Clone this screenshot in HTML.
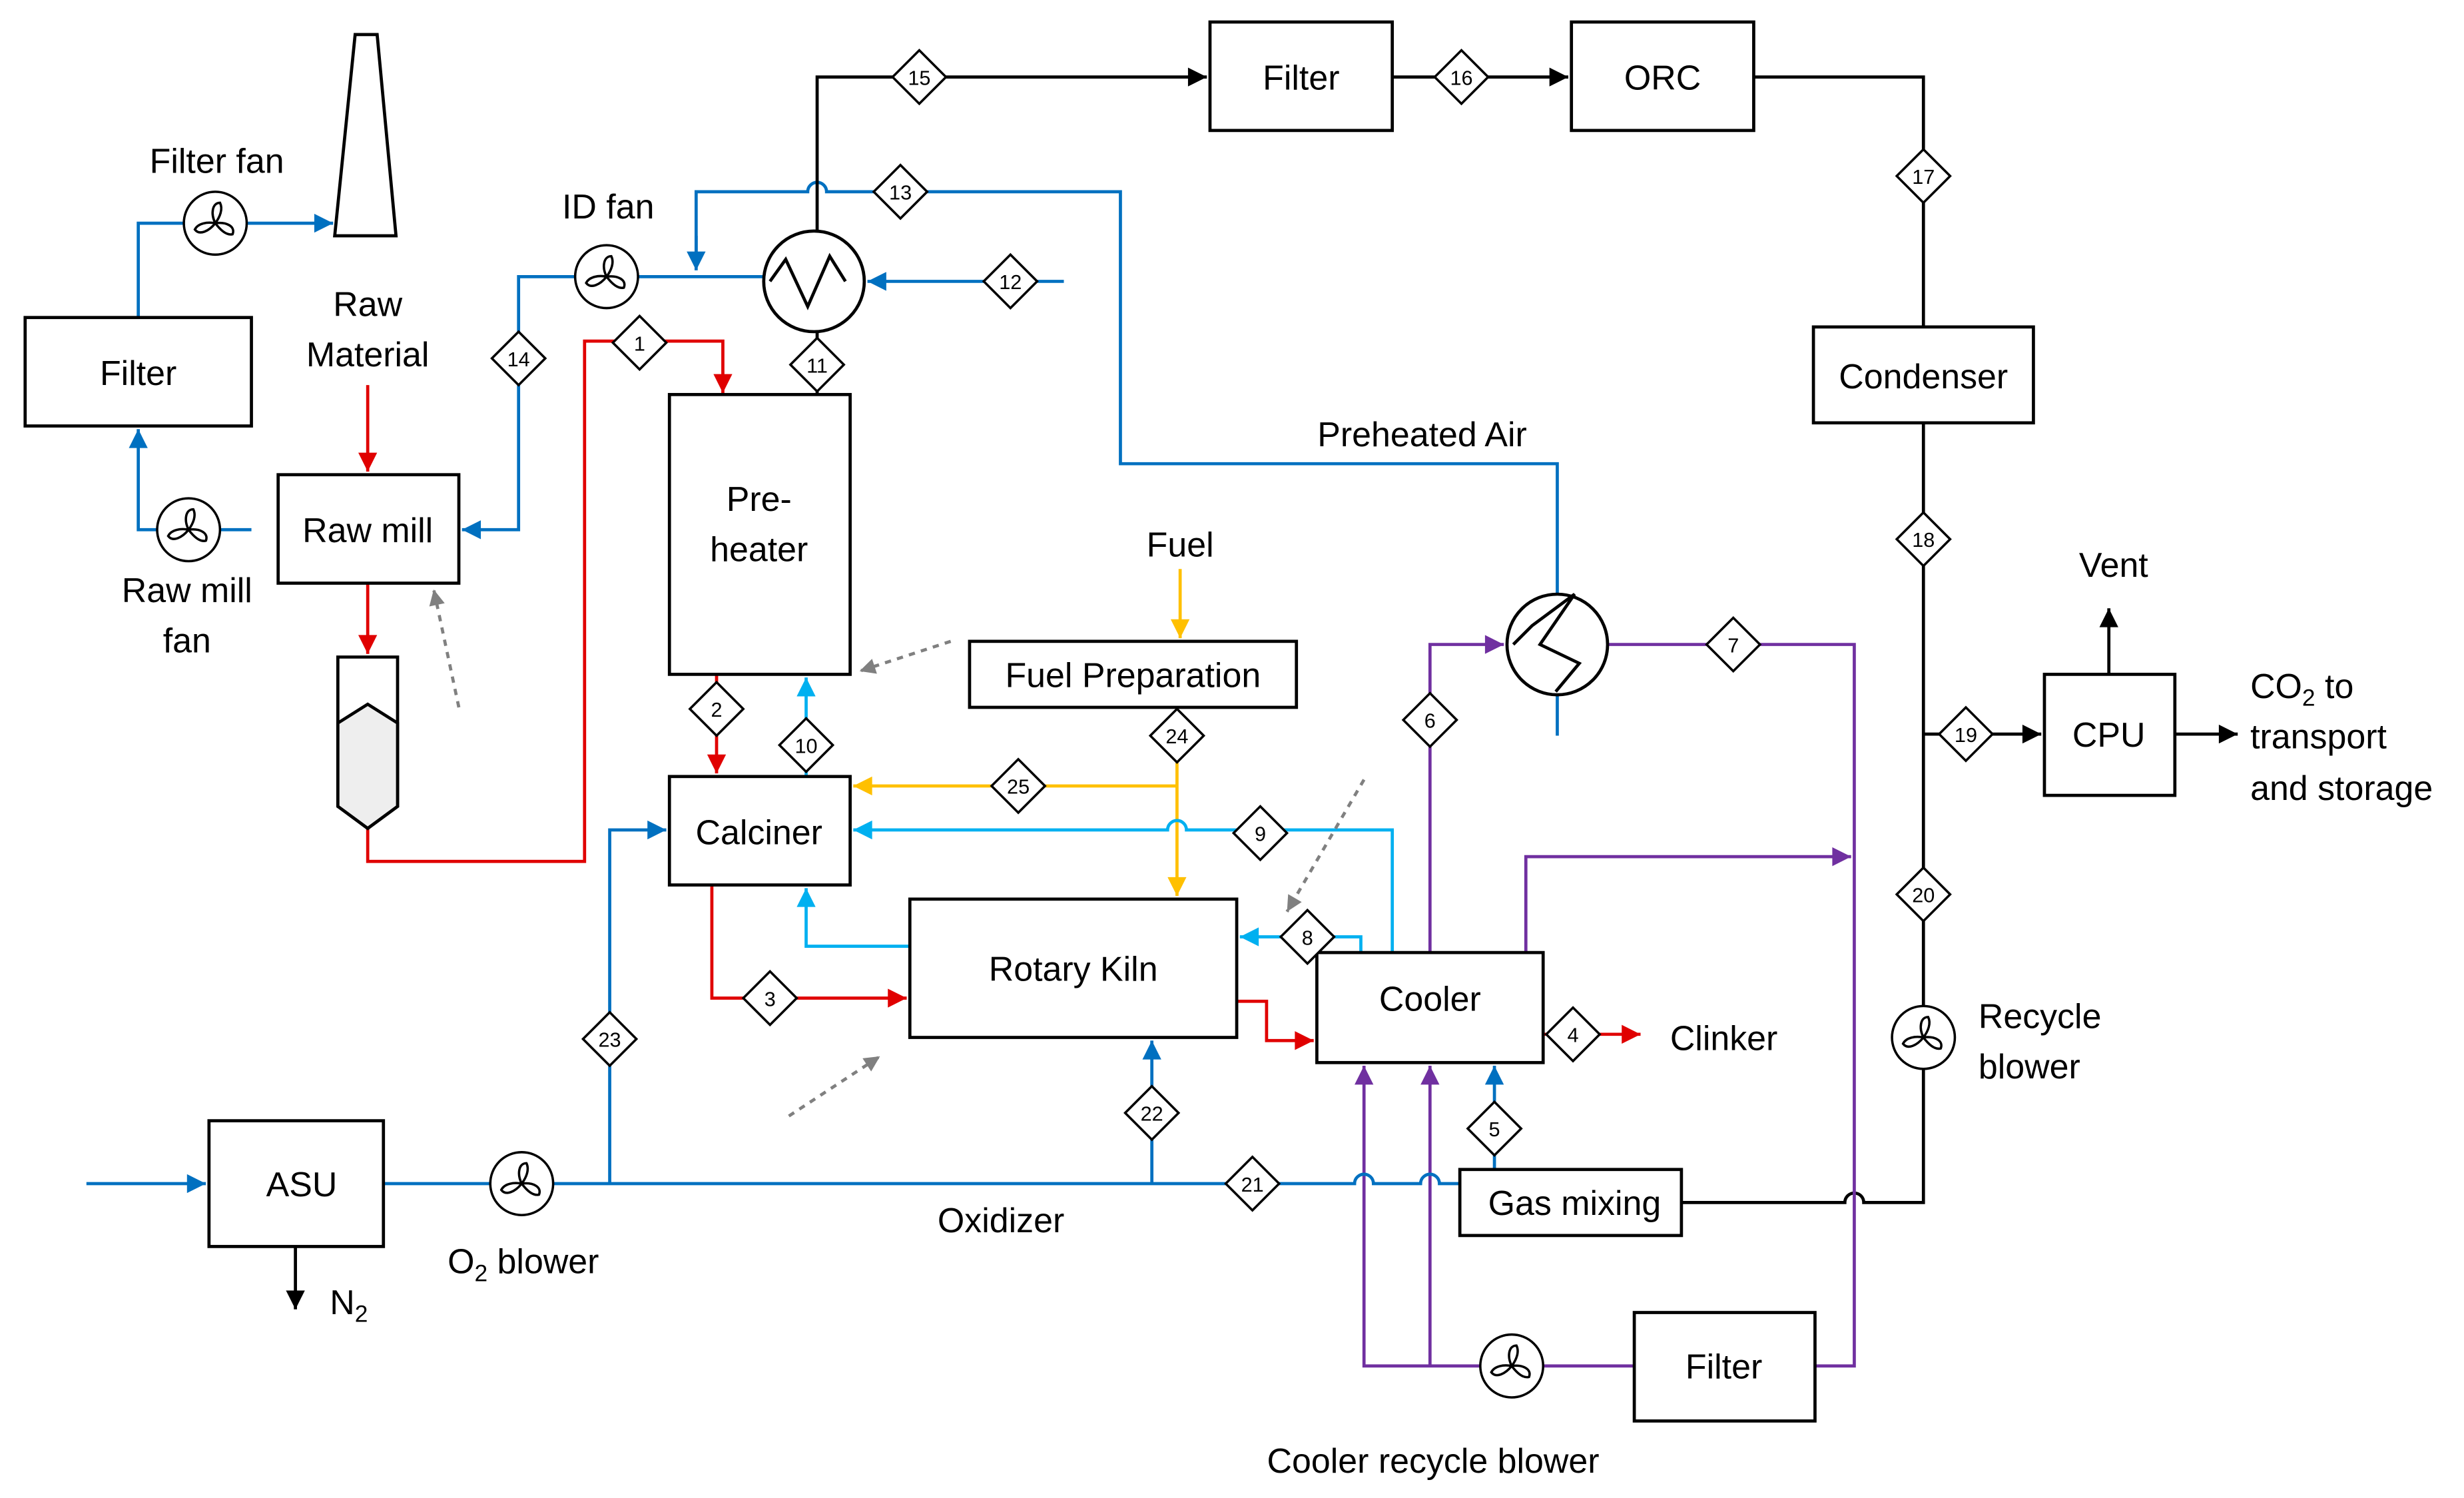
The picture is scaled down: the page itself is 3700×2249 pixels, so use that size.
<!DOCTYPE html>
<html><head><meta charset="utf-8"><style>
html,body{margin:0;padding:0;background:#fff;}
svg{display:block;}
text{font-family:"Liberation Sans",sans-serif;}
</style></head><body>
<svg width="3700" height="2249" viewBox="0 0 1568 953" preserveAspectRatio="none" xmlns="http://www.w3.org/2000/svg">
<defs>
<marker id="ar" viewBox="0 0 10 10" markerWidth="14" markerHeight="12" refX="10" refY="5" orient="auto" markerUnits="userSpaceOnUse"><path d="M0,0 L10,5 L0,10z" fill="#e00000"/></marker>
<marker id="ab" viewBox="0 0 10 10" markerWidth="14" markerHeight="12" refX="10" refY="5" orient="auto" markerUnits="userSpaceOnUse"><path d="M0,0 L10,5 L0,10z" fill="#0070c0"/></marker>
<marker id="al" viewBox="0 0 10 10" markerWidth="14" markerHeight="12" refX="10" refY="5" orient="auto" markerUnits="userSpaceOnUse"><path d="M0,0 L10,5 L0,10z" fill="#00b0f0"/></marker>
<marker id="ao" viewBox="0 0 10 10" markerWidth="14" markerHeight="12" refX="10" refY="5" orient="auto" markerUnits="userSpaceOnUse"><path d="M0,0 L10,5 L0,10z" fill="#ffc000"/></marker>
<marker id="ap" viewBox="0 0 10 10" markerWidth="14" markerHeight="12" refX="10" refY="5" orient="auto" markerUnits="userSpaceOnUse"><path d="M0,0 L10,5 L0,10z" fill="#7030a0"/></marker>
<marker id="abk" viewBox="0 0 10 10" markerWidth="14" markerHeight="12" refX="10" refY="5" orient="auto" markerUnits="userSpaceOnUse"><path d="M0,0 L10,5 L0,10z" fill="#000"/></marker>
<marker id="ag" viewBox="0 0 10 10" markerWidth="12" markerHeight="10" refX="10" refY="5" orient="auto" markerUnits="userSpaceOnUse"><path d="M0,0 L10,5 L0,10z" fill="#808080"/></marker>
<g id="fan"><circle r="20" fill="#fff" stroke="#000" stroke-width="1.5"/><path d="M0,0 C-3,-6 -2,-13 3,-13 C5,-9 3,-4 0,0 M0,0 C7,-1 13,2 11,7 C7,8 3,4 0,0 M0,0 C-4,5 -10,8 -13,4 C-11,0 -5,-1 0,0" fill="none" stroke="#000" stroke-width="1.5"/></g>
</defs>

<g fill="none" stroke-width="2">
<polyline points="160,337 120,337" stroke="#0070c0"/>
<polyline points="100,337 88,337 88,273" stroke="#0070c0" marker-end="url(#ab)"/>
<polyline points="88,202 88,142 117,142" stroke="#0070c0"/>
<polyline points="157,142 212,142" stroke="#0070c0" marker-end="url(#ab)"/>
<polyline points="487,176 406,176" stroke="#0070c0"/>
<polyline points="366,176 330,176 330,337 294,337" stroke="#0070c0" marker-end="url(#ab)"/>
<polyline points="677,179 552,179" stroke="#0070c0" marker-end="url(#ab)"/>
<path d="M443,170 L443,122 L514,122 A6,6 0 0 1 526,122 L713,122 L713,295 L991,295 L991,378" stroke="#0070c0"/>
<line x1="443" y1="150" x2="443" y2="172" stroke="#0070c0" marker-end="url(#ab)"/>
<line x1="991" y1="442" x2="991" y2="468" stroke="#0070c0"/>
<line x1="234" y1="245" x2="234" y2="300" stroke="#e00000" marker-end="url(#ar)"/>
<line x1="234" y1="371" x2="234" y2="416" stroke="#e00000" marker-end="url(#ar)"/>
<polyline points="234,527 234,548 372,548 372,217 460,217 460,250" stroke="#e00000" marker-end="url(#ar)"/>
<line x1="456" y1="429" x2="456" y2="492" stroke="#e00000" marker-end="url(#ar)"/>
<polyline points="453,563 453,635 577,635" stroke="#e00000" marker-end="url(#ar)"/>
<polyline points="787,637 806,637 806,662 836,662" stroke="#e00000" marker-end="url(#ar)"/>
<line x1="982" y1="658" x2="1044" y2="658" stroke="#e00000" marker-end="url(#ar)"/>
<polyline points="520,147 520,49 768,49" stroke="#000" marker-end="url(#abk)"/>
<line x1="886" y1="49" x2="998" y2="49" stroke="#000" marker-end="url(#abk)"/>
<polyline points="1116,49 1224,49 1224,208" stroke="#000"/>
<line x1="520" y1="211" x2="520" y2="251" stroke="#000"/>
<path d="M1224,269 L1224,765 L1186,765 A6,6 0 0 0 1174,765 L1070,765" stroke="#000"/>
<line x1="1224" y1="467" x2="1299" y2="467" stroke="#000" marker-end="url(#abk)"/>
<line x1="1342" y1="429" x2="1342" y2="387" stroke="#000" marker-end="url(#abk)"/>
<line x1="1384" y1="467" x2="1424" y2="467" stroke="#000" marker-end="url(#abk)"/>
<line x1="188" y1="793" x2="188" y2="833" stroke="#000" marker-end="url(#abk)"/>
<line x1="751" y1="362" x2="751" y2="406" stroke="#ffc000" marker-end="url(#ao)"/>
<line x1="749" y1="450" x2="749" y2="570" stroke="#ffc000" marker-end="url(#ao)"/>
<line x1="749" y1="500" x2="543" y2="500" stroke="#ffc000" marker-end="url(#ao)"/>
<line x1="513" y1="494" x2="513" y2="431" stroke="#00b0f0" marker-end="url(#al)"/>
<path d="M886,606 L886,528 L755,528 A6,6 0 0 0 743,528 L543,528" stroke="#00b0f0" marker-end="url(#al)"/>
<polyline points="866,606 866,596 789,596" stroke="#00b0f0" marker-end="url(#al)"/>
<polyline points="579,602 513,602 513,565" stroke="#00b0f0" marker-end="url(#al)"/>
<polyline points="910,606 910,410 957,410" stroke="#7030a0" marker-end="url(#ap)"/>
<polyline points="1023,410 1180,410 1180,869 1155,869" stroke="#7030a0"/>
<polyline points="971,606 971,545 1178,545" stroke="#7030a0" marker-end="url(#ap)"/>
<line x1="1040" y1="869" x2="982" y2="869" stroke="#7030a0"/>
<polyline points="942,869 868,869 868,678" stroke="#7030a0" marker-end="url(#ap)"/>
<line x1="910" y1="869" x2="910" y2="678" stroke="#7030a0" marker-end="url(#ap)"/>
<line x1="55" y1="753" x2="131" y2="753" stroke="#0070c0" marker-end="url(#ab)"/>
<line x1="244" y1="753" x2="312" y2="753" stroke="#0070c0"/>
<path d="M352,753 L862,753 A6,6 0 0 1 874,753 L904,753 A6,6 0 0 1 916,753 L929,753" stroke="#0070c0"/>
<polyline points="388,753 388,528 424,528" stroke="#0070c0" marker-end="url(#ab)"/>
<line x1="733" y1="753" x2="733" y2="662" stroke="#0070c0" marker-end="url(#ab)"/>
<line x1="951" y1="744" x2="951" y2="678" stroke="#0070c0" marker-end="url(#ab)"/>
<g stroke="#808080" stroke-dasharray="4,4" stroke-width="2">
<line x1="605" y1="408" x2="547" y2="427" marker-end="url(#ag)"/>
<line x1="868" y1="496" x2="819" y2="580" marker-end="url(#ag)"/>
<line x1="502" y1="710" x2="560" y2="672" marker-end="url(#ag)"/>
<line x1="292" y1="450" x2="276" y2="375" marker-end="url(#ag)"/>
</g>
</g>

<g fill="#fff" stroke="#000" stroke-width="2">
<rect x="16" y="202" width="144" height="69"/>
<rect x="177" y="302" width="115" height="69"/>
<rect x="426" y="251" width="115" height="178"/>
<rect x="770" y="14" width="116" height="69"/>
<rect x="1000" y="14" width="116" height="69"/>
<rect x="1154" y="208" width="140" height="61"/>
<rect x="1301" y="429" width="83" height="77"/>
<rect x="617" y="408" width="208" height="42"/>
<rect x="426" y="494" width="115" height="69"/>
<rect x="579" y="572" width="208" height="88"/>
<rect x="838" y="606" width="144" height="70"/>
<rect x="929" y="744" width="141" height="42"/>
<rect x="133" y="713" width="111" height="80"/>
<rect x="1040" y="835" width="115" height="69"/>
<polygon points="226,22 240,22 252,150 213,150"/>
<path d="M215,418 L253,418 L253,513 L234,527 L215,513 Z" fill="#fff"/>
<path d="M215,460 L234,448 L253,460 L253,513 L234,527 L215,513 Z" fill="#eee"/>
</g>

<g fill="#fff" stroke="#000" stroke-width="2">
<circle cx="518" cy="179" r="32"/>
<polyline points="490,179 500,165 514,195 528,163 538,179" fill="none"/>
<circle cx="991" cy="410" r="32"/>
<polyline points="963,410 975,398 1002,378 980,410 1005,422 990,440" fill="none"/>
</g>

<use href="#fan" x="137" y="142"/>
<use href="#fan" x="120" y="337"/>
<use href="#fan" x="386" y="176"/>
<use href="#fan" x="332" y="753"/>
<use href="#fan" x="962" y="869"/>
<use href="#fan" x="1224" y="660"/>

<g fill="#fff" stroke="#000" stroke-width="1.5">
<polygon points="407,201 424,218 407,235 390,218"/>
<polygon points="456,434 473,451 456,468 439,451"/>
<polygon points="490,618 507,635 490,652 473,635"/>
<polygon points="1001,641 1018,658 1001,675 984,658"/>
<polygon points="951,701 968,718 951,735 934,718"/>
<polygon points="910,441 927,458 910,475 893,458"/>
<polygon points="1103,393 1120,410 1103,427 1086,410"/>
<polygon points="832,579 849,596 832,613 815,596"/>
<polygon points="802,513 819,530 802,547 785,530"/>
<polygon points="513,457 530,474 513,491 496,474"/>
<polygon points="520,215 537,232 520,249 503,232"/>
<polygon points="643,162 660,179 643,196 626,179"/>
<polygon points="573,105 590,122 573,139 556,122"/>
<polygon points="330,211 347,228 330,245 313,228"/>
<polygon points="585,32 602,49 585,66 568,49"/>
<polygon points="930,32 947,49 930,66 913,49"/>
<polygon points="1224,95 1241,112 1224,129 1207,112"/>
<polygon points="1224,326 1241,343 1224,360 1207,343"/>
<polygon points="1251,450 1268,467 1251,484 1234,467"/>
<polygon points="1224,552 1241,569 1224,586 1207,569"/>
<polygon points="797,736 814,753 797,770 780,753"/>
<polygon points="733,691 750,708 733,725 716,708"/>
<polygon points="388,644 405,661 388,678 371,661"/>
<polygon points="749,451 766,468 749,485 732,468"/>
<polygon points="648,483 665,500 648,517 631,500"/>
</g>
<g font-size="13" text-anchor="middle" fill="#000">
<text x="407" y="223">1</text><text x="456" y="456">2</text><text x="490" y="640">3</text>
<text x="1001" y="663">4</text><text x="951" y="723">5</text><text x="910" y="463">6</text>
<text x="1103" y="415">7</text><text x="832" y="601">8</text><text x="802" y="535">9</text>
<text x="513" y="479">10</text><text x="520" y="237">11</text><text x="643" y="184">12</text>
<text x="573" y="127">13</text><text x="330" y="233">14</text><text x="585" y="54">15</text>
<text x="930" y="54">16</text><text x="1224" y="117">17</text><text x="1224" y="348">18</text>
<text x="1251" y="472">19</text><text x="1224" y="574">20</text><text x="797" y="758">21</text>
<text x="733" y="713">22</text><text x="388" y="666">23</text><text x="749" y="473">24</text>
<text x="648" y="505">25</text>
</g>

<g font-size="22" text-anchor="middle" fill="#000">
<text x="88" y="245">Filter</text>
<text x="234" y="345">Raw mill</text>
<text x="483" y="325">Pre-</text><text x="483" y="357">heater</text>
<text x="828" y="57">Filter</text>
<text x="1058" y="57">ORC</text>
<text x="1224" y="247">Condenser</text>
<text x="1342" y="475">CPU</text>
<text x="721" y="437">Fuel Preparation</text>
<text x="483" y="537">Calciner</text>
<text x="683" y="624">Rotary Kiln</text>
<text x="910" y="643">Cooler</text>
<text x="1002" y="773">Gas mixing</text>
<text x="192" y="761">ASU</text>
<text x="1097" y="877">Filter</text>
<text x="138" y="110">Filter fan</text>
<text x="234" y="201">Raw</text><text x="234" y="233">Material</text>
<text x="119" y="383">Raw mill</text><text x="119" y="415">fan</text>
<text x="387" y="139">ID fan</text>
<text x="905" y="284">Preheated Air</text>
<text x="751" y="354">Fuel</text>
<text x="1345" y="367">Vent</text>
<text x="1097" y="668">Clinker</text>
<text x="637" y="784">Oxidizer</text>
<text x="912" y="937">Cooler recycle blower</text>
<text x="333" y="810">O<tspan font-size="15" dy="5">2</tspan><tspan dy="-5"> blower</tspan></text>
<text x="222" y="836">N<tspan font-size="15" dy="5">2</tspan></text>
</g>
<g font-size="22" fill="#000">
<text x="1432" y="444">CO<tspan font-size="15" dy="5">2</tspan><tspan dy="-5"> to</tspan></text>
<text x="1432" y="476">transport</text>
<text x="1432" y="509">and storage</text>
<text x="1259" y="654">Recycle</text>
<text x="1259" y="686">blower</text>
</g>
</svg>
</body></html>
